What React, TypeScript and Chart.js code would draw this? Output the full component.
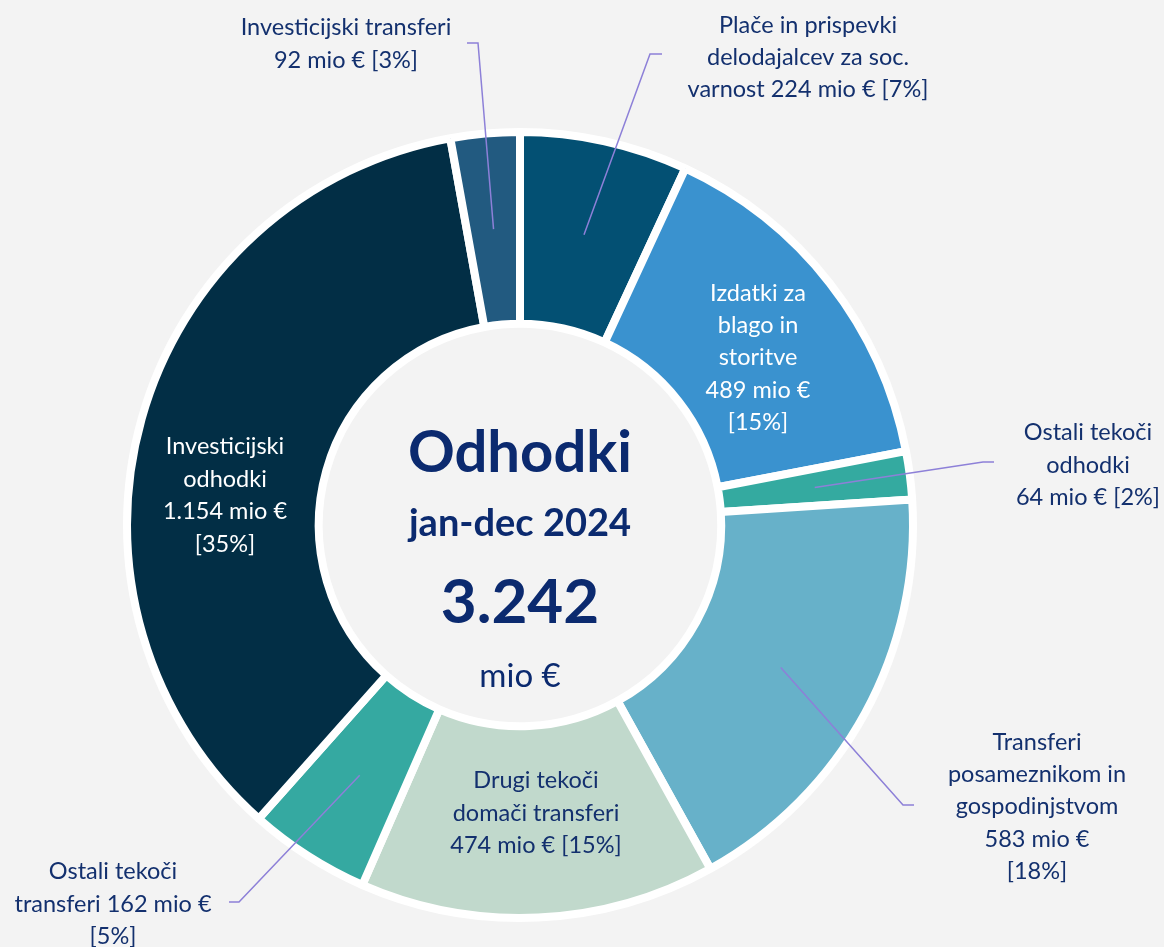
import React, { useEffect, useRef } from "react";
import { Chart, registerables } from "chart.js";

Chart.register(...registerables);

// ---- data ----
const categories: string[] = [
  "Plače in prispevki delodajalcev za soc. varnost",
  "Izdatki za blago in storitve",
  "Ostali tekoči odhodki",
  "Transferi posameznikom in gospodinjstvom",
  "Drugi tekoči domači transferi",
  "Ostali tekoči transferi",
  "Investicijski odhodki",
  "Investicijski transferi",
];
const values: number[] = [224, 489, 64, 583, 474, 162, 1154, 92];
const percents: number[] = [7, 15, 2, 18, 15, 5, 35, 3];
// label text templates ({v} = value, {p} = percent)
const labelTemplates: string[][] = [
  ["Plače in prispevki", "delodajalcev za soc.", "varnost {v} mio € [{p}%]"],
  ["Izdatki za", "blago in", "storitve", "{v} mio €", "[{p}%]"],
  ["Ostali tekoči", "odhodki", "{v} mio € [{p}%]"],
  ["Transferi", "posameznikom in", "gospodinjstvom", "{v} mio €", "[{p}%]"],
  ["Drugi tekoči", "domači transferi", "{v} mio € [{p}%]"],
  ["Ostali tekoči", "transferi {v} mio €", "[{p}%]"],
  ["Investicijski", "odhodki", "{v} mio €", "[{p}%]"],
  ["Investicijski transferi", "{v} mio € [{p}%]"],
];
const centerTitle = "Odhodki";
const centerPeriod = "jan-dec 2024";
const centerUnit = "mio €";

// ---- styles ----
const sliceColors = [
  "#035073",
  "#3a92cf",
  "#34aaa0",
  "#67b1c9",
  "#c1d9cc",
  "#35a9a1",
  "#022e45",
  "#225a80",
];
const BG = "#f3f3f3";
const NAVY = "#13306e";
const CENTER_NAVY = "#0b2a6f";
const LEADER = "#8d80d8";
const FONT = "Lato, 'Open Sans', sans-serif";

// label layout: text center x, first baseline y, line height, color, leader elbow / end
type LabelLayout = {
  x: number;
  y: number;
  lh: number;
  color: string;
  elbow?: [number, number];
  end?: [number, number];
};
const labelLayout: LabelLayout[] = [
  { x: 808, y: 33, lh: 32, color: NAVY, elbow: [650, 54], end: [662, 54] },
  { x: 758, y: 301, lh: 32.2, color: "#ffffff" },
  { x: 1088, y: 440, lh: 32.5, color: NAVY, elbow: [983, 462], end: [994, 462] },
  { x: 1037, y: 750, lh: 32.2, color: NAVY, elbow: [903, 805], end: [914, 805] },
  { x: 536, y: 788, lh: 32.5, color: NAVY },
  { x: 113, y: 879, lh: 32.5, color: NAVY, elbow: [239, 902], end: [229, 902] },
  { x: 225, y: 454, lh: 32.7, color: "#ffffff" },
  { x: 346, y: 35, lh: 33, color: NAVY, elbow: [478, 43], end: [467, 43] },
];

const fmt = (n: number) => String(n).replace(/\B(?=(\d{3})+(?!\d))/g, ".");

const labelPlugin = {
  id: "labelPlugin",
  beforeDraw(chart: any) {
    const ctx = chart.ctx;
    ctx.save();
    ctx.fillStyle = BG;
    ctx.fillRect(0, 0, chart.width, chart.height);
    ctx.restore();
  },
  afterDatasetsDraw(chart: any) {
    const ctx = chart.ctx;
    const meta = chart.getDatasetMeta(0);
    ctx.save();
    // leader lines
    meta.data.forEach((arc: any, i: number) => {
      const L = labelLayout[i];
      if (!L.elbow || !L.end) return;
      const p = arc.getProps(["x", "y", "startAngle", "endAngle", "innerRadius", "outerRadius"], true);
      const mid = (p.startAngle + p.endAngle) / 2;
      const r = (p.innerRadius + p.outerRadius) / 2;
      ctx.beginPath();
      ctx.moveTo(p.x + r * Math.cos(mid), p.y + r * Math.sin(mid));
      ctx.lineTo(L.elbow[0], L.elbow[1]);
      ctx.lineTo(L.end[0], L.end[1]);
      ctx.strokeStyle = LEADER;
      ctx.lineWidth = 1.5;
      ctx.stroke();
    });
    // labels
    ctx.textAlign = "center";
    ctx.textBaseline = "alphabetic";
    ctx.font = `23.5px ${FONT}`;
    labelTemplates.forEach((lines, i) => {
      const L = labelLayout[i];
      ctx.fillStyle = L.color;
      lines.forEach((t, k) => {
        const s = t.replace("{v}", fmt(values[i])).replace("{p}", String(percents[i]));
        ctx.fillText(s, L.x, L.y + k * L.lh);
      });
    });
    // center text
    const total = values.reduce((a, b) => a + b, 0);
    const a0 = meta.data[0];
    const cx = a0 ? a0.x : 520;
    ctx.fillStyle = CENTER_NAVY;
    ctx.font = `bold 58px ${FONT}`;
    ctx.fillText(centerTitle, cx, 472);
    ctx.font = `bold 38px ${FONT}`;
    ctx.fillText(centerPeriod, cx, 536);
    ctx.font = `bold 62px ${FONT}`;
    ctx.fillText(fmt(total), cx, 623);
    ctx.font = `33px ${FONT}`;
    ctx.fillText(centerUnit, cx, 687);
    ctx.restore();
  },
};

export default function App() {
  const ref = useRef<HTMLCanvasElement | null>(null);
  useEffect(() => {
    document.body.style.margin = "0";
    document.body.style.background = BG;
    if (!ref.current) return;
    const chart = new Chart(ref.current, {
      type: "doughnut",
      data: {
        labels: categories,
        datasets: [
          {
            data: values,
            backgroundColor: sliceColors,
            hoverBackgroundColor: sliceColors,
            borderColor: "#ffffff",
            borderWidth: 8,
            hoverBorderWidth: 8,
            hoverOffset: 0,
          },
        ],
      },
      options: {
        animation: false,
        responsive: true,
        maintainAspectRatio: false,
        cutout: "51.2%",
        layout: { padding: { top: 128, bottom: 25, left: 0, right: 124 } },
        plugins: { legend: { display: false }, tooltip: { enabled: false } },
        events: [],
      },
      plugins: [labelPlugin],
    });
    return () => chart.destroy();
  }, []);
  return (
    <div style={{ position: "absolute", left: 0, top: 0, width: 1164, height: 947 }}>
      <canvas ref={ref} />
    </div>
  );
}
